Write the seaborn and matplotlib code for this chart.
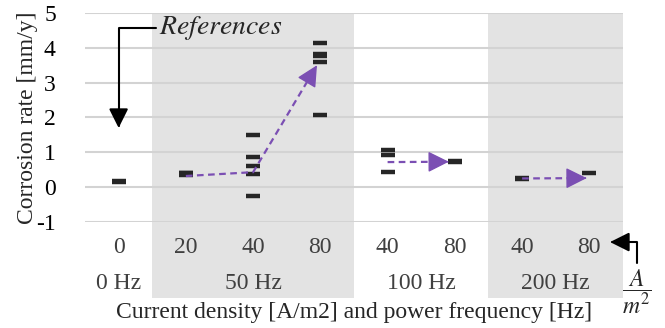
import numpy as np
import pandas as pd
import matplotlib
matplotlib.use("Agg")
import matplotlib.pyplot as plt
import matplotlib.transforms as mtransforms
from matplotlib.patches import Rectangle
import seaborn as sns

# x categories: current density, grouped by power frequency
cat_labels = ['0', '20', '40', '80', '40', '80', '40', '80']
groups = ['0 Hz', '50 Hz', '100 Hz', '200 Hz']
group_sizes = [1, 3, 2, 2]

# measured corrosion rates [mm/y] per category
rate_0hz_0 = [0.15, 0.19]
rate_50hz_20 = [0.36, 0.40, 0.42]
rate_50hz_40 = [1.50, 0.88, 0.60, 0.37, -0.25]
rate_50hz_80 = [4.15, 3.82, 3.76, 3.60, 2.07]
rate_100hz_40 = [1.06, 0.92, 0.44]
rate_100hz_80 = [0.72, 0.75]
rate_200hz_40 = [0.22, 0.26]
rate_200hz_80 = [0.42]

# trend arrows (mean values), x = category index
trend_50hz_x = [1, 2, 2.95]
trend_50hz = [0.32, 0.43, 3.50]
trend_100hz_x = [4, 4.91]
trend_100hz = [0.72, 0.73]
trend_200hz_x = [6, 6.96]
trend_200hz = [0.25, 0.26]

all_rates = [rate_0hz_0, rate_50hz_20, rate_50hz_40, rate_50hz_80,
             rate_100hz_40, rate_100hz_80, rate_200hz_40, rate_200hz_80]
rows = []
for i, vals in enumerate(all_rates):
    for v in vals:
        rows.append({'pos': i, 'rate': v})
df = pd.DataFrame(rows)

sns.set_theme(style='white')
plt.rcParams['font.family'] = ['Liberation Serif', 'DejaVu Serif']
plt.rcParams['mathtext.fontset'] = 'stix'

fig = plt.figure(figsize=(6.65, 3.28), dpi=100)
ax = fig.add_axes([0.1278, 0.3232, 0.809, 0.6372])

# shaded frequency bands
band = mtransforms.blended_transform_factory(ax.transData, ax.transAxes)
for x0, x1 in [(0.5, 3.5), (5.5, 7.5)]:
    ax.add_patch(Rectangle((x0, -0.364), x1 - x0, 1.364, transform=band,
                           facecolor='#e3e3e3', edgecolor='none',
                           clip_on=False, zorder=0))

for yv in range(-1, 6):
    ax.axhline(yv, color='#d3d3d3', lw=1.5, zorder=0.5)

sns.scatterplot(data=df, x='pos', y='rate', marker='_', s=90, linewidth=3.2,
                color='#262626', ax=ax, zorder=3, legend=False)

purple = '#7b4fb3'
head = dict(arrowstyle='-|>,head_length=1.0,head_width=0.5', color=purple,
            lw=1, mutation_scale=13, shrinkA=0, shrinkB=0)
for xs, ys in [(trend_50hz_x, trend_50hz), (trend_100hz_x, trend_100hz),
               (trend_200hz_x, trend_200hz)]:
    ax.plot(xs[:-1] + [xs[-1] - 0.04 * (xs[-1] - xs[-2])],
            ys[:-1] + [ys[-1] - 0.04 * (ys[-1] - ys[-2])],
            color=purple, lw=1.6, ls=(0, (3, 2)), zorder=4)
    ax.annotate('', xy=(xs[-1], ys[-1]),
                xytext=(xs[-1] - 0.02 * (xs[-1] - xs[-2]), ys[-1] - 0.02 * (ys[-1] - ys[-2])),
                arrowprops=head, zorder=5)

ax.set_xlim(-0.5, 7.5)
ax.set_ylim(-1, 5)
ax.set_yticks(range(-1, 6))
ax.set_yticklabels([str(t) for t in range(-1, 6)], fontsize=17, color='black')
ax.tick_params(axis='y', length=0, pad=21)
ax.set_xticks([])
ax.set_xlabel('')
ax.set_ylabel('')
for s in ax.spines.values():
    s.set_visible(False)

# category and group labels
for i, lab in enumerate(cat_labels):
    ax.text(i, -0.124, lab, transform=band, ha='center', va='center',
            fontsize=17, color='#404040')
start = 0
for g, n in zip(groups, group_sizes):
    ax.text(start + (n - 1) / 2, -0.292, g, transform=band, ha='center',
            va='center', fontsize=17, color='#404040')
    start += n

ax.text(0.5, -0.431, 'Current density [A/m2] and power frequency [Hz]',
        transform=ax.transAxes, ha='center', va='center', fontsize=17)
ax.text(-0.106, 0.5, 'Corrosion rate [mm/y]', transform=ax.transAxes,
        rotation=90, ha='center', va='center', fontsize=17)

# reference annotation
ax.annotate('$References$', xy=(0.0, 1.7), xytext=(0.6, 4.56),
            ha='left', va='center', fontsize=20,
            arrowprops=dict(arrowstyle='-|>,head_length=0.9,head_width=0.45',
                            connectionstyle='angle,angleA=0,angleB=90,rad=0',
                            color='black', lw=1.5, mutation_scale=13, shrinkA=0, shrinkB=0))

# unit annotation
ax.annotate('', xy=(0.976, -0.096), xytext=(1.026, -0.196), xycoords='axes fraction',
            arrowprops=dict(arrowstyle='-|>,head_length=0.9,head_width=0.45',
                            connectionstyle='angle,angleA=90,angleB=0,rad=0',
                            color='black', lw=1.5, mutation_scale=13, shrinkA=0, shrinkB=0),
            annotation_clip=False)
ax.text(1.026, -0.335, r'$\dfrac{A}{m^2}$', transform=ax.transAxes, ha='center',
        va='center', fontsize=17)

fig.savefig('out.png', dpi=100)
